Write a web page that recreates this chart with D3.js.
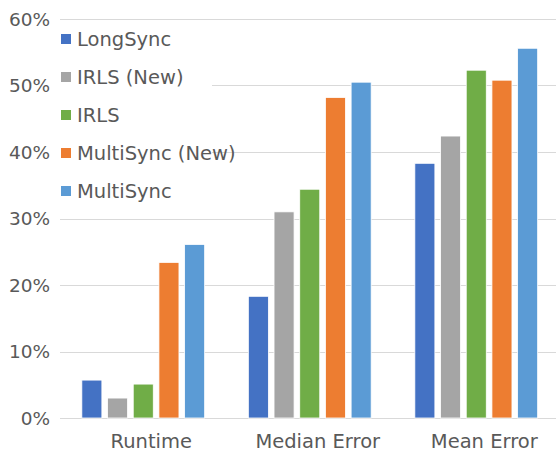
<!DOCTYPE html>
<html>
<head>
<meta charset="utf-8">
<script src="https://cdn.jsdelivr.net/npm/d3@7"></script>
<style>
  body { margin: 0; background: #fff; }
  text { font-family: "DejaVu Sans", sans-serif; fill: #595959; }
</style>
</head>
<body>
<div id="canvas"></div>
<script>
// --- data (percent)
var categories = ['Runtime', 'Median Error', 'Mean Error'];
var series = ['LongSync', 'IRLS (New)', 'IRLS', 'MultiSync (New)', 'MultiSync'];
var colors = ['#4472c4', '#a5a5a5', '#70ad47', '#ed7d31', '#5b9bd5'];
var longSync = [5.7, 18.3, 38.3];
var irlsNew = [3.0, 31.0, 42.4];
var irls = [5.1, 34.4, 52.3];
var multiSyncNew = [23.4, 48.2, 50.8];
var multiSync = [26.1, 50.5, 55.6];
var yTicks = [0, 10, 20, 30, 40, 50, 60];

var values = [longSync, irlsNew, irls, multiSyncNew, multiSync];

var outerWidth = 556, outerHeight = 453;
var M = {top: 19, right: -3.5, bottom: 35, left: 60};
var w = outerWidth - M.left - M.right,
    h = outerHeight - M.top - M.bottom;

var svg = d3.select('#canvas')
  .append('svg')
  .attr('width', outerWidth)
  .attr('height', outerHeight);

var plot = svg.append('g')
  .attr('transform', 'translate(' + M.left + ',' + M.top + ')');

var x0 = d3.scaleBand().domain(categories).range([0, w]).padding(0);
var x1 = d3.scaleBand().domain(series).range([0, x0.bandwidth()])
  .paddingInner(0.22).paddingOuter(0.85);
var y = d3.scaleLinear().domain([0, 60]).range([h, 0]);

// gridlines
plot.append('g')
  .selectAll('line')
  .data(yTicks)
  .enter().append('line')
  .attr('x1', 0)
  .attr('x2', w)
  .attr('y1', function(d) { return Math.round(y(d)) + 0.5; })
  .attr('y2', function(d) { return Math.round(y(d)) + 0.5; })
  .style('stroke', '#d9d9d9')
  .style('stroke-width', 1);

// y tick labels
plot.append('g')
  .selectAll('text')
  .data(yTicks)
  .enter().append('text')
  .attr('x', -10)
  .attr('y', function(d) { return y(d); })
  .attr('dy', '0.36em')
  .attr('text-anchor', 'end')
  .style('font-size', '18.5px')
  .text(function(d) { return d + '%'; });

// bars
var groups = plot.selectAll('.grp')
  .data(categories)
  .enter().append('g')
  .attr('class', 'grp')
  .attr('transform', function(d) { return 'translate(' + x0(d) + ',0)'; });

groups.selectAll('rect')
  .data(function(c, ci) {
    return series.map(function(s, si) { return {s: s, i: si, v: values[si][ci]}; });
  })
  .enter().append('rect')
  .attr('x', function(d) { return x1(d.s); })
  .attr('width', x1.bandwidth())
  .attr('y', function(d) { return y(d.v); })
  .attr('height', function(d) { return h - y(d.v); })
  .style('fill', function(d) { return colors[d.i]; })
  .style('stroke', '#fff')
  .style('stroke-width', 0.8);

// category labels (sit a little right of the bar groups in the original)
plot.append('g')
  .selectAll('text')
  .data(categories)
  .enter().append('text')
  .attr('x', function(d) { return x0(d) + x0.bandwidth() / 2 + 8; })
  .attr('y', h + 30)
  .attr('text-anchor', 'middle')
  .style('font-size', '19.5px')
  .text(function(d) { return d; });

// legend, white box over the gridlines
var legend = svg.append('g');
legend.append('rect')
  .attr('x', 57).attr('y', 24)
  .attr('width', 155).attr('height', 184)
  .style('fill', '#fff');

var item = legend.selectAll('.item')
  .data(series)
  .enter().append('g')
  .attr('class', 'item')
  .attr('transform', function(d, i) { return 'translate(61,' + (34 + i * 38) + ')'; });

item.append('rect')
  .attr('width', 10).attr('height', 10)
  .style('fill', function(d, i) { return colors[i]; });

item.append('text')
  .attr('x', 16)
  .attr('y', 5)
  .attr('dy', '0.36em')
  .style('font-size', '19.5px')
  .text(function(d) { return d; });
</script>
</body>
</html>
